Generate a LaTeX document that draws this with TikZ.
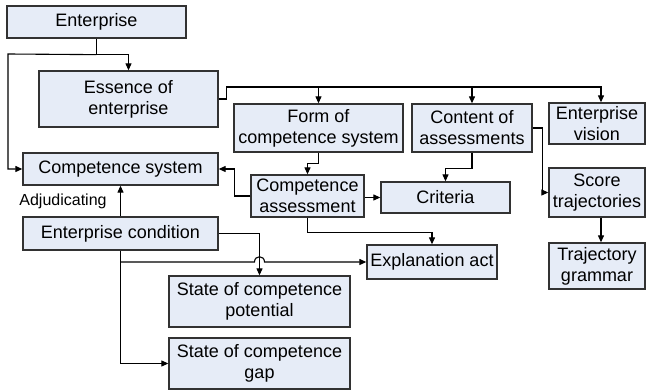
\documentclass[tikz,border=0pt]{standalone}
\usepackage{fontspec}
\setmainfont{Liberation Sans}
\usetikzlibrary{calc,arrows.meta}
\definecolor{boxfill}{RGB}{230,236,247}
\definecolor{boxline}{RGB}{50,50,50}
\tikzset{
  box/.style={draw=boxline, line width=1.3pt, fill=boxfill, inner sep=0pt,
    align=center, font=\fontsize{18}{21}\selectfont},
  arr/.style={draw=black, line width=1.1pt, -{Triangle[length=7pt,width=6pt]}},
  ln/.style={draw=black, line width=1.1pt},
}
\begin{document}
\begin{tikzpicture}[x=1pt,y=-1pt]
\useasboundingbox (0,0) rectangle (646,390);

% boxes
\node[box, minimum width=179, minimum height=32] (ent) at (96.5,22) {Enterprise};
\node[box, minimum width=179, minimum height=56] (ess) at (128.5,99) {Essence of\\enterprise};
\node[box, minimum width=195, minimum height=32] (cs) at (120.5,169) {Competence system};
\node[box, minimum width=169, minimum height=48] (form) at (318.5,128) {Form of\\competence system};
\node[box, minimum width=120, minimum height=48] (cont) at (472,128) {Content of\\assessments};
\node[box, minimum width=96, minimum height=41] (vis) at (597,123.5) {Enterprise\\vision};
\node[box, minimum width=113, minimum height=42] (ca) at (307.5,196) {Competence\\assessment};
\node[box, minimum width=129, minimum height=31] (crit) at (445.5,197.5) {Criteria};
\node[box, minimum width=96, minimum height=49] (score) at (597,192.5) {Score\\trajectories};
\node[box, minimum width=96, minimum height=46] (traj) at (597,266) {Trajectory\\grammar};
\node[box, minimum width=130, minimum height=34] (expl) at (432,262) {Explanation act};
\node[box, minimum width=195, minimum height=33] (econd) at (120.5,233.5) {Enterprise condition};
\node[box, minimum width=181, minimum height=51] (pot) at (259.5,301.5) {State of competence\\potential};
\node[box, minimum width=181, minimum height=51] (gap) at (259.5,363.5) {State of competence\\gap};

\node[font=\fontsize{16}{19}\selectfont, inner sep=0pt] (adj) at (63,201) {Adjudicating};

% from the enterprise
\coordinate (j1) at ($(ent.south)+(0,16)$);
\draw[ln] (ent.south) -- (j1);
\draw[arr] (j1) -| (ess.north);
\draw[arr] (j1) -- (8,54) |- (cs.west);

% bus from the essence of enterprise
\coordinate (bus) at ($(ess.east)+(8,-12)$);
\draw[arr] (ess.east) -- ++(8,0) -- (bus) -- (bus -| 601,0) -- (601,0 |- vis.north);
\draw[arr] (form.north |- bus) -- (form.north);
\draw[arr] (cont.north |- bus) -- (cont.north);

% competence assessment
\draw[arr] (form.south) -- ++(0,11) -| (ca.north);
\draw[arr] (ca.west) -- ++(-16,0) |- (cs.east);
\draw[arr] (ca.east |- crit.west) -- (crit.west);
\draw[arr] (ca.south) -- ++(0,15) -| (expl.north);

% content of assessments
\draw[arr] (cont.south) -- ++(0,16) -| (crit.north);
\draw[arr] (cont.east) -- ++(10,0) |- (score.west);
\draw[arr] (601,0 |- score.south) -- (601,0 |- traj.north);

% enterprise condition
\draw[arr] (econd.north) -- (cs.south);
\draw[arr] (econd.east) -| (pot.north);
\draw[arr] (econd.south) |- (gap.west);
\coordinate (ja) at ($(pot.north |- expl.west)+(-5,0)$);
\coordinate (jb) at ($(pot.north |- expl.west)+(5,0)$);
\draw[arr] (econd.south |- expl.west) -- (ja)
  .. controls ($(ja)+(0,-7)$) and ($(jb)+(0,-7)$) .. (jb) -- (expl.west);
\end{tikzpicture}
\end{document}
